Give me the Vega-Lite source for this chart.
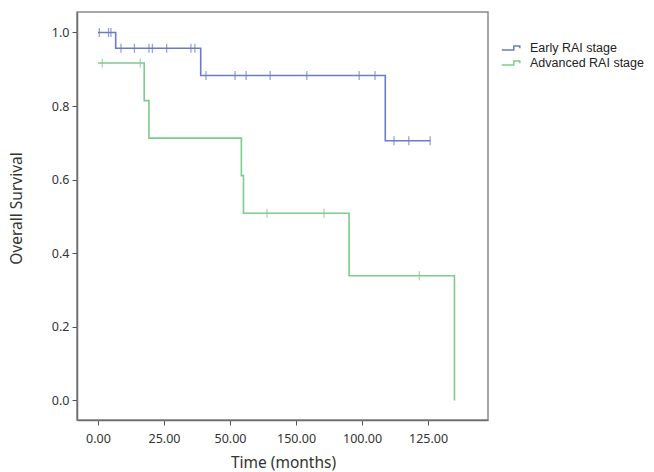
{
  "$schema": "https://vega.github.io/schema/vega-lite/v6.json",
  "width": 411,
  "height": 408,
  "autosize": {"type": "none"},
  "padding": {"left": 77, "top": 12, "right": 166, "bottom": 52},
  "background": "white",
  "config": {
    "view": {"stroke": "#8a8a8a", "strokeWidth": 1.5},
    "font": "Noto Sans"
  },
  "datasets": {
    "curves": [
      {"group": "Early RAI stage", "time": 0, "survival": 1.0},
      {"group": "Early RAI stage", "time": 6.7, "survival": 0.957},
      {"group": "Early RAI stage", "time": 38.9, "survival": 0.883},
      {"group": "Early RAI stage", "time": 108.8, "survival": 0.706},
      {"group": "Early RAI stage", "time": 125.8, "survival": 0.706},
      {"group": "Advanced RAI stage", "time": 0, "survival": 0.917},
      {"group": "Advanced RAI stage", "time": 17.5, "survival": 0.815},
      {"group": "Advanced RAI stage", "time": 19.3, "survival": 0.713},
      {"group": "Advanced RAI stage", "time": 54.3, "survival": 0.611},
      {"group": "Advanced RAI stage", "time": 55.1, "survival": 0.509},
      {"group": "Advanced RAI stage", "time": 95.1, "survival": 0.339},
      {"group": "Advanced RAI stage", "time": 135.0, "survival": 0.0}
    ],
    "censors": [
      {"group": "Early RAI stage", "time": 0.5, "survival": 1.0},
      {"group": "Early RAI stage", "time": 4.0, "survival": 1.0},
      {"group": "Early RAI stage", "time": 4.9, "survival": 1.0},
      {"group": "Early RAI stage", "time": 8.7, "survival": 0.957},
      {"group": "Early RAI stage", "time": 13.8, "survival": 0.957},
      {"group": "Early RAI stage", "time": 19.3, "survival": 0.957},
      {"group": "Early RAI stage", "time": 20.6, "survival": 0.957},
      {"group": "Early RAI stage", "time": 26.0, "survival": 0.957},
      {"group": "Early RAI stage", "time": 35.2, "survival": 0.957},
      {"group": "Early RAI stage", "time": 36.7, "survival": 0.957},
      {"group": "Early RAI stage", "time": 40.9, "survival": 0.883},
      {"group": "Early RAI stage", "time": 51.9, "survival": 0.883},
      {"group": "Early RAI stage", "time": 56.1, "survival": 0.883},
      {"group": "Early RAI stage", "time": 65.2, "survival": 0.883},
      {"group": "Early RAI stage", "time": 79.1, "survival": 0.883},
      {"group": "Early RAI stage", "time": 98.9, "survival": 0.883},
      {"group": "Early RAI stage", "time": 104.9, "survival": 0.883},
      {"group": "Early RAI stage", "time": 112.1, "survival": 0.706},
      {"group": "Early RAI stage", "time": 117.7, "survival": 0.706},
      {"group": "Early RAI stage", "time": 125.8, "survival": 0.706},
      {"group": "Advanced RAI stage", "time": 1.6, "survival": 0.917},
      {"group": "Advanced RAI stage", "time": 16.0, "survival": 0.917},
      {"group": "Advanced RAI stage", "time": 64.0, "survival": 0.509},
      {"group": "Advanced RAI stage", "time": 85.6, "survival": 0.509},
      {"group": "Advanced RAI stage", "time": 121.7, "survival": 0.339}
    ]
  },
  "encoding": {
    "x": {
      "field": "time",
      "type": "quantitative",
      "scale": {"domain": [-7.95, 147.7], "nice": false, "zero": false},
      "axis": {
        "title": "Time (months)",
        "values": [0, 25, 50, 75, 100, 125],
        "labelExpr": "datum.value == 75 ? '150.00' : format(datum.value, '.2f')",
        "grid": false,
        "domainColor": "#6e6e6e",
        "domainWidth": 1.5,
        "tickColor": "#555",
        "tickSize": 5,
        "labelFontSize": 12.5,
        "labelColor": "#333",
        "labelPadding": 7,
        "titleFontSize": 15.5,
        "titleFontWeight": "normal",
        "titleColor": "#333",
        "titleX": 206,
        "titleY": 42,
        "titleBaseline": "middle",
        "titleAlign": "center"
      }
    },
    "y": {
      "field": "survival",
      "type": "quantitative",
      "scale": {"domain": [-0.053, 1.0557], "nice": false, "zero": false},
      "axis": {
        "title": "Overall Survival",
        "values": [0, 0.2, 0.4, 0.6, 0.8, 1.0],
        "format": ".1f",
        "grid": false,
        "domainColor": "#6e6e6e",
        "domainWidth": 1.5,
        "tickColor": "#555",
        "tickSize": 5,
        "labelFontSize": 12.5,
        "labelColor": "#333",
        "labelPadding": 3,
        "titleFontSize": 15.5,
        "titleFontWeight": "normal",
        "titleColor": "#333",
        "titleX": -61,
        "titleY": 196,
        "titleBaseline": "middle",
        "titleAlign": "center"
      }
    },
    "color": {
      "field": "group",
      "type": "nominal",
      "scale": {
        "domain": ["Early RAI stage", "Advanced RAI stage"],
        "range": ["#6b7cc4", "#7fcb8b"]
      }
    }
  },
  "layer": [
    {
      "data": {"name": "curves"},
      "mark": {"type": "line", "interpolate": "step-after", "strokeWidth": 1.6},
      "encoding": {
        "color": {
          "field": "group",
          "type": "nominal",
          "scale": {
            "domain": ["Early RAI stage", "Advanced RAI stage"],
            "range": ["#6b7cc4", "#7fcb8b"]
          },
          "legend": {
            "title": null,
            "orient": "none",
            "legendX": 428,
            "legendY": 29,
            "symbolType": "M-1.7,0.35H0.3V-0.35H1.3V0.05",
            "symbolSize": 144,
            "symbolStrokeWidth": 1.5,
            "labelFont": "Liberation Sans",
            "labelFontSize": 12.5,
            "labelColor": "#222",
            "labelOffset": 11,
            "rowPadding": 1,
            "encode": {
              "symbols": {"update": {"fill": {"value": "transparent"}, "fillOpacity": {"value": 0}}}
            }
          }
        }
      }
    },
    {
      "data": {"name": "censors"},
      "mark": {"type": "tick", "orient": "vertical", "size": 9, "thickness": 1.3},
      "encoding": {
        "color": {
          "field": "group",
          "type": "nominal",
          "legend": null
        }
      }
    }
  ]
}
